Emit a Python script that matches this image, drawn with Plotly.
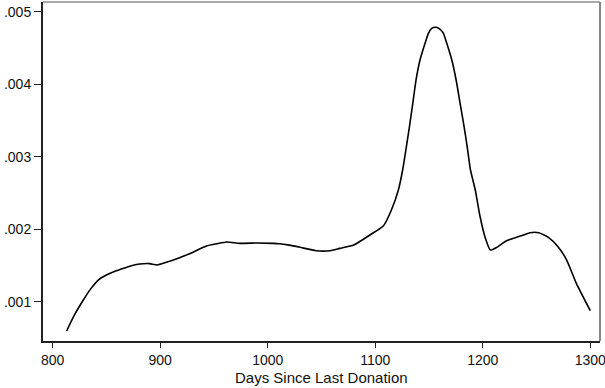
import plotly.graph_objects as go

days = [813, 820, 828.5, 835, 842.4, 850, 858, 866, 874, 881, 890, 897, 905, 918,
        930, 943, 953, 962, 974, 990, 1005, 1011, 1020, 1030, 1045, 1058, 1067,
        1080, 1095, 1107.5, 1115, 1121.5, 1125.5, 1128.7, 1131.8, 1134.9, 1137.9,
        1141.6, 1146.3, 1149.4, 1152.5, 1156.6, 1160, 1163.4, 1166.5, 1171.2,
        1175.2, 1178.9, 1182.6, 1185.7, 1188.5, 1193, 1197.5,
        1202, 1207, 1213, 1222, 1235, 1244, 1252, 1261, 1270, 1278, 1287, 1300]
density = [0.000596, 0.00081, 0.001023, 0.00117, 0.001299, 0.001368, 0.00142,
           0.001461, 0.0015, 0.00152, 0.001525, 0.001506, 0.00154, 0.001607,
           0.00168, 0.001768, 0.0018, 0.001823, 0.001805, 0.00181, 0.001805,
           0.0018, 0.00178, 0.00175, 0.001703, 0.001703, 0.001736, 0.001782,
           0.00192, 0.002044, 0.002265, 0.002541, 0.00282, 0.003116, 0.003414,
           0.003737, 0.004058, 0.004334, 0.004564, 0.004702, 0.00477, 0.004785,
           0.00476, 0.004702, 0.004564, 0.004334, 0.004058, 0.003737, 0.003414,
           0.003116, 0.00282, 0.002541, 0.002172,
           0.001897, 0.001713, 0.00175, 0.001841, 0.001906, 0.001952,
           0.001952, 0.001888, 0.001759, 0.001575, 0.001254, 0.000876]

x_ticks = [800, 900, 1000, 1100, 1200, 1300]
y_ticks = [0.001, 0.002, 0.003, 0.004, 0.005]
y_tick_labels = [".001", ".002", ".003", ".004", ".005"]
x_title = "Days Since Last Donation"

font = "Liberation Sans, Arial, sans-serif"

fig = go.Figure()
fig.add_trace(go.Scatter(x=days, y=density, mode="lines",
                         line=dict(color="black", width=1.6, shape="spline",
                                   smoothing=0.5),
                         hoverinfo="skip", showlegend=False))

fig.update_layout(
    width=605, height=388,
    margin=dict(l=43, r=5, t=2, b=47, autoexpand=False),
    paper_bgcolor="white", plot_bgcolor="white",
    font=dict(family=font, size=14, color="#111"),
    xaxis=dict(range=[791, 1309], tickvals=x_ticks, ticks="outside", ticklen=5,
               tickwidth=1, tickcolor="#222", showgrid=False, zeroline=False,
               showline=True, linecolor="#222", linewidth=2, automargin=False,
               tickfont=dict(size=14), ticklabeloverflow="allow"),
    yaxis=dict(range=[0.000458, 0.005134], tickvals=y_ticks, ticktext=y_tick_labels,
               ticks="outside", ticklen=7, tickwidth=1, tickcolor="#222",
               showgrid=False, zeroline=False, showline=True, linecolor="#222",
               linewidth=2, automargin=False,
               tickfont=dict(size=14), ticklabeloverflow="allow"),
    shapes=[
        dict(type="line", xref="paper", yref="paper", x0=0, x1=1, y0=1, y1=1,
             line=dict(color="#555", width=1)),
        dict(type="line", xref="paper", yref="paper", x0=1, x1=1, y0=0, y1=1,
             line=dict(color="#888", width=2)),
    ],
    annotations=[dict(text=x_title, xref="paper", yref="paper", x=0.5,
                      y=-0.108, xanchor="center", yanchor="middle",
                      showarrow=False, font=dict(size=15, family=font, color="#111"))],
)

fig.write_html("out.html")
